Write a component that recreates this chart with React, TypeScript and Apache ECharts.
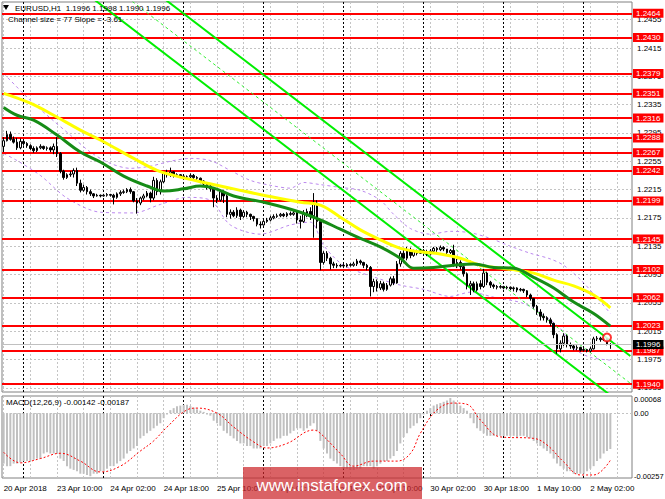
import React, { useEffect, useRef } from "react";
import * as echarts from "echarts";

const FONT = "'Liberation Sans', Arial, sans-serif";

// ---------- categories / time axis ----------
const BAR_COUNT = 189; // 183 hourly bars + empty right margin
const categories = Array.from({ length: BAR_COUNT }, (_, i) => String(i));
const timeTickLabels = [
  "20 Apr 2018", "23 Apr 10:00", "24 Apr 02:00", "24 Apr 18:00", "25 Apr 10:00", "26 Apr 02:00",
  "26 Apr 18:00", "27 Apr 10:00", "30 Apr 02:00", "30 Apr 18:00", "1 May 10:00", "2 May 02:00",
];
const hourGridBars = [0, 8, 16, 24, 32, 40, 48, 56, 64, 72, 80, 88, 96, 104, 112, 120, 128, 136, 144, 152, 160, 168, 176, 184];
const dayStartBars = [6, 30, 54, 78, 102, 126, 150, 174];

// ---------- price axis ----------
const priceTicks = [1.2455, 1.2415, 1.2375, 1.2335, 1.2295, 1.2255, 1.2215, 1.2175, 1.2135, 1.2095, 1.2055, 1.2015, 1.1975, 1.1935];
const priceMin = 1.1929;
const priceMax = 1.248;

// ---------- horizontal support / resistance levels ----------
const levels = [1.2464, 1.243, 1.2379, 1.2351, 1.2316, 1.2288, 1.2267, 1.2242, 1.2199, 1.2145, 1.2102, 1.2062, 1.2023, 1.1987, 1.194];
const bidPrice = 1.1996;

// ---------- candles: [open, close, low, high] ----------
const candles = [
  [1.2276, 1.2284, 1.2268, 1.2289], [1.2284, 1.2293, 1.2283, 1.2298], [1.2293, 1.2286, 1.2284, 1.2297], [1.2286, 1.2282, 1.228, 1.229],
  [1.2282, 1.2274, 1.2271, 1.2288], [1.2274, 1.2283, 1.2272, 1.2287], [1.2283, 1.228, 1.2277, 1.2285], [1.228, 1.2277, 1.2274, 1.2282],
  [1.2277, 1.2273, 1.2271, 1.2279], [1.2273, 1.227, 1.2267, 1.2276], [1.227, 1.2274, 1.2268, 1.2276], [1.2274, 1.2276, 1.2272, 1.2279],
  [1.2276, 1.2273, 1.2271, 1.2277], [1.2273, 1.2274, 1.227, 1.2276], [1.2274, 1.2271, 1.2268, 1.2276], [1.2271, 1.2276, 1.2265, 1.228],
  [1.2276, 1.2266, 1.2261, 1.2289], [1.2266, 1.2241, 1.2238, 1.2268], [1.2241, 1.2232, 1.2229, 1.2243], [1.2232, 1.2236, 1.223, 1.2238],
  [1.2236, 1.2237, 1.2233, 1.2241], [1.2237, 1.2242, 1.2232, 1.2245], [1.2242, 1.2224, 1.222, 1.2246], [1.2224, 1.2214, 1.2211, 1.2229],
  [1.2214, 1.2218, 1.2212, 1.2222], [1.2218, 1.2212, 1.2208, 1.222], [1.2212, 1.2209, 1.2206, 1.2215], [1.2209, 1.2206, 1.2203, 1.221],
  [1.2206, 1.2207, 1.2205, 1.2209], [1.2207, 1.2206, 1.2204, 1.2208], [1.2206, 1.2207, 1.2205, 1.2209], [1.2207, 1.2208, 1.2205, 1.221],
  [1.2208, 1.2207, 1.2205, 1.2209], [1.2207, 1.2204, 1.2194, 1.2209], [1.2204, 1.2209, 1.2202, 1.2211], [1.2209, 1.2211, 1.2206, 1.2214],
  [1.2211, 1.2212, 1.2209, 1.2215], [1.2212, 1.2215, 1.221, 1.2217], [1.2215, 1.2212, 1.2209, 1.2218], [1.2212, 1.2199, 1.2197, 1.2213],
  [1.2199, 1.2196, 1.2181, 1.2203], [1.2196, 1.2203, 1.2193, 1.2205], [1.2203, 1.2206, 1.22, 1.2209], [1.2206, 1.221, 1.2204, 1.2213],
  [1.221, 1.2203, 1.2197, 1.2212], [1.2203, 1.2228, 1.22, 1.2233], [1.2228, 1.2212, 1.2207, 1.2231], [1.2212, 1.2226, 1.2208, 1.2229],
  [1.2226, 1.2238, 1.2224, 1.224], [1.2238, 1.2236, 1.2232, 1.2243], [1.2236, 1.224, 1.2233, 1.2246], [1.224, 1.2235, 1.2232, 1.2241],
  [1.2235, 1.2236, 1.2233, 1.2238], [1.2236, 1.2234, 1.2232, 1.2237], [1.2234, 1.2233, 1.2231, 1.2236], [1.2233, 1.2233, 1.223, 1.2235],
  [1.2233, 1.2235, 1.2229, 1.2238], [1.2235, 1.2232, 1.223, 1.2237], [1.2232, 1.2231, 1.2227, 1.2234], [1.2231, 1.2227, 1.2224, 1.2232],
  [1.2227, 1.2223, 1.222, 1.2228], [1.2223, 1.222, 1.2215, 1.2224], [1.222, 1.2216, 1.2212, 1.2222], [1.2216, 1.2203, 1.219, 1.2218],
  [1.2203, 1.22, 1.2196, 1.2207], [1.22, 1.2212, 1.2198, 1.2215], [1.2212, 1.2206, 1.2196, 1.2214], [1.2206, 1.218, 1.2176, 1.2208],
  [1.218, 1.2183, 1.2174, 1.2187], [1.2183, 1.2178, 1.2176, 1.2186], [1.2178, 1.2186, 1.2175, 1.219], [1.2186, 1.2177, 1.2172, 1.2188],
  [1.2177, 1.2183, 1.2175, 1.2186], [1.2183, 1.218, 1.2176, 1.2185], [1.218, 1.2177, 1.2172, 1.2181], [1.2177, 1.2174, 1.217, 1.2178],
  [1.2174, 1.2166, 1.2163, 1.2174], [1.2166, 1.2165, 1.216, 1.217], [1.2165, 1.217, 1.2164, 1.2172], [1.217, 1.2172, 1.2168, 1.2175],
  [1.2172, 1.2175, 1.217, 1.2178], [1.2175, 1.2177, 1.2173, 1.218], [1.2177, 1.2178, 1.2175, 1.2181], [1.2178, 1.218, 1.2176, 1.2182],
  [1.218, 1.2178, 1.2176, 1.2182], [1.2178, 1.2181, 1.2176, 1.2183], [1.2181, 1.218, 1.2178, 1.2184], [1.218, 1.2182, 1.2178, 1.2185],
  [1.2182, 1.2172, 1.2167, 1.2185], [1.2172, 1.217, 1.216, 1.2178], [1.217, 1.218, 1.2168, 1.2186], [1.218, 1.2184, 1.2176, 1.2188],
  [1.2184, 1.2178, 1.2172, 1.219], [1.2178, 1.2196, 1.2147, 1.221], [1.2196, 1.217, 1.216, 1.22], [1.217, 1.2112, 1.2101, 1.2172],
  [1.2112, 1.2125, 1.2109, 1.2128], [1.2125, 1.2118, 1.2114, 1.2128], [1.2118, 1.211, 1.2102, 1.212], [1.211, 1.2108, 1.2104, 1.2113],
  [1.2108, 1.2107, 1.2104, 1.2111], [1.2107, 1.2108, 1.2105, 1.211], [1.2108, 1.2107, 1.2104, 1.211], [1.2107, 1.2109, 1.2105, 1.2111],
  [1.2109, 1.2108, 1.2106, 1.2111], [1.2108, 1.211, 1.2106, 1.2113], [1.211, 1.2114, 1.2107, 1.2117], [1.2114, 1.2112, 1.2109, 1.2116],
  [1.2112, 1.2108, 1.2104, 1.2113], [1.2108, 1.2105, 1.2101, 1.211], [1.2105, 1.2078, 1.2064, 1.2107], [1.2078, 1.2085, 1.207, 1.2089],
  [1.2085, 1.2076, 1.2071, 1.2088], [1.2076, 1.2082, 1.2073, 1.2086], [1.2082, 1.2074, 1.2071, 1.2085], [1.2074, 1.208, 1.2072, 1.2083],
  [1.208, 1.2089, 1.2078, 1.2092], [1.2089, 1.2083, 1.208, 1.2093], [1.2083, 1.211, 1.2082, 1.2114], [1.211, 1.2125, 1.2106, 1.2128],
  [1.2125, 1.2118, 1.2112, 1.213], [1.2118, 1.2129, 1.2115, 1.2134], [1.2129, 1.2122, 1.2118, 1.2133], [1.2122, 1.2128, 1.212, 1.213],
  [1.2128, 1.2125, 1.2122, 1.213], [1.2125, 1.2129, 1.2124, 1.2131], [1.2129, 1.2127, 1.2125, 1.2131], [1.2127, 1.2124, 1.2121, 1.213],
  [1.2124, 1.2128, 1.2122, 1.2131], [1.2128, 1.2132, 1.2126, 1.2134], [1.2132, 1.213, 1.2127, 1.2134], [1.213, 1.2133, 1.2128, 1.2136],
  [1.2133, 1.2131, 1.2128, 1.2135], [1.2131, 1.2126, 1.2124, 1.2131], [1.2126, 1.2129, 1.2124, 1.2131], [1.2129, 1.211, 1.2106, 1.2137],
  [1.211, 1.2112, 1.2104, 1.2117], [1.2112, 1.2106, 1.2102, 1.2115], [1.2106, 1.2096, 1.2092, 1.2108], [1.2096, 1.2079, 1.2074, 1.2098],
  [1.2079, 1.2082, 1.2066, 1.2086], [1.2082, 1.2073, 1.207, 1.2085], [1.2073, 1.2082, 1.2071, 1.2085], [1.2082, 1.2078, 1.2074, 1.2087],
  [1.2078, 1.2097, 1.2076, 1.2103], [1.2097, 1.2084, 1.208, 1.2099], [1.2084, 1.208, 1.2076, 1.2086], [1.208, 1.2078, 1.2075, 1.2082],
  [1.2078, 1.2077, 1.2074, 1.208], [1.2077, 1.2078, 1.2075, 1.208], [1.2078, 1.2076, 1.2074, 1.2079], [1.2076, 1.2077, 1.2074, 1.2079],
  [1.2077, 1.2075, 1.2073, 1.2078], [1.2075, 1.2076, 1.2071, 1.2078], [1.2076, 1.2073, 1.207, 1.2077], [1.2073, 1.2074, 1.2071, 1.2076],
  [1.2074, 1.2072, 1.2069, 1.2075], [1.2072, 1.2066, 1.2063, 1.2073], [1.2066, 1.2061, 1.2058, 1.2068], [1.2061, 1.205, 1.2047, 1.2062],
  [1.205, 1.2042, 1.2038, 1.2052], [1.2042, 1.2036, 1.203, 1.2046], [1.2036, 1.2034, 1.203, 1.204], [1.2034, 1.2031, 1.2027, 1.2036],
  [1.2031, 1.2026, 1.2022, 1.2034], [1.2026, 1.201, 1.2005, 1.2027], [1.201, 1.199, 1.1983, 1.2012], [1.199, 1.1998, 1.1985, 1.2002],
  [1.1998, 1.2008, 1.1994, 1.2012], [1.2008, 1.1996, 1.1992, 1.201], [1.1996, 1.1994, 1.199, 1.1999], [1.1994, 1.1991, 1.1988, 1.1996],
  [1.1991, 1.1992, 1.1988, 1.1995], [1.1992, 1.1988, 1.1986, 1.1993], [1.1988, 1.1989, 1.1986, 1.1991], [1.1989, 1.1987, 1.1985, 1.199],
  [1.1987, 1.199, 1.1985, 1.1993], [1.199, 1.2004, 1.1989, 1.2007], [1.2004, 1.2005, 1.2001, 1.2008], [1.2005, 1.2003, 1.2, 1.2007],
  [1.2003, 1.2004, 1.2001, 1.2006], [1.2004, 1.1997, 1.1995, 1.2005], [1.1996, 1.1996, 1.199, 1.1998],
];

// ---------- moving averages [bar, price] ----------
const yellowMA = [
  [0, 1.2351], [8, 1.2337], [15, 1.232], [23, 1.2299], [29, 1.2285], [39, 1.2259], [46, 1.2242], [51, 1.2235],
  [59, 1.2226], [69, 1.2216], [79, 1.2206], [89, 1.2197], [95, 1.2193], [101, 1.2176], [107, 1.2158], [113, 1.2144],
  [119, 1.2132], [125, 1.2127], [131, 1.2124], [137, 1.2118], [143, 1.2108], [149, 1.2104], [154, 1.2101], [159, 1.2097],
  [165, 1.2087], [171, 1.2079], [177, 1.2066], [182, 1.2048],
];
const greenMA = [
  [0, 1.2331], [4, 1.232], [9, 1.2313], [16, 1.2292], [23, 1.2268], [29, 1.2254], [36, 1.2234], [43, 1.222],
  [48, 1.2213], [54, 1.2216], [59, 1.222], [63, 1.2217], [69, 1.2206], [79, 1.2196], [89, 1.2183], [95, 1.2172],
  [101, 1.2159], [107, 1.2146], [113, 1.2134], [119, 1.2118], [123, 1.2104], [129, 1.2105], [135, 1.2108], [141, 1.211],
  [147, 1.2105], [153, 1.2104], [159, 1.2091], [165, 1.2076], [171, 1.2056], [177, 1.204], [182, 1.2022],
];

// ---------- envelope bands [bar, price] ----------
const bandUpper = [
  [0, 1.2379], [8, 1.2341], [14, 1.2316], [20, 1.2292], [26, 1.2268], [32, 1.2252], [38, 1.2245], [44, 1.2248],
  [50, 1.2255], [56, 1.2259], [62, 1.2256], [68, 1.2242], [74, 1.2228], [80, 1.2221], [86, 1.2217], [90, 1.2225],
  [95, 1.2222], [101, 1.2218], [107, 1.2214], [113, 1.22], [117, 1.218], [122, 1.216], [128, 1.2152], [134, 1.2156],
  [140, 1.2154], [146, 1.2146], [152, 1.2135], [158, 1.2125], [164, 1.2117], [168, 1.2108], [173, 1.2088], [178, 1.2062],
  [182, 1.204],
];
const bandLower = [
  [0, 1.2266], [4, 1.2256], [11, 1.2235], [19, 1.2203], [29, 1.2183], [39, 1.2182], [47, 1.2194], [55, 1.2204],
  [62, 1.22], [68, 1.2165], [77, 1.2152], [86, 1.2165], [92, 1.2169], [96, 1.2136], [102, 1.2108], [112, 1.209],
  [119, 1.208], [126, 1.2074], [134, 1.2064], [140, 1.207], [147, 1.2063], [156, 1.2054], [162, 1.2037], [167, 1.2019],
  [171, 1.1991], [176, 1.1978], [182, 1.1974],
];

// ---------- regression channel (end points at bar 0 and bar 188) ----------
const channelBars = [0, 188];
const channelUpper = [1.26585, 1.19798];
const channelMid = [1.262, 1.19413];
const channelLower = [1.25815, 1.19028];
const channelSize = 77;
const channelSlope = -3.61;

const alertPoints = [[181, 1.2006]];

// ---------- MACD ----------
const macdMain = [
  -0.002, -0.0021, -0.0021, -0.002, -0.002,
  -0.00195, -0.0019, -0.0019, -0.0019, -0.00185, -0.0018, -0.0018,
  -0.0016, -0.00155, -0.0016, -0.0016, -0.0016,
  -0.0018, -0.0019,
  -0.0021, -0.0022, -0.00225,
  -0.0023, -0.0024, -0.0024, -0.00245,
  -0.0025, -0.0024, -0.0024, -0.0023,
  -0.0023, -0.0022, -0.0021, -0.0021,
  -0.002, -0.0019, -0.0018,
  -0.0016, -0.0015, -0.0014, -0.0013,
  -0.001, -0.0009, -0.0008, -0.0007,
  -0.0006, -0.0005, -0.0004,
  -0.0002, -0.00005,
  0.00012, 0.0002, 0.00027, 0.0003, 0.00033,
  0.00033, 0.00028, 0.00022,
  0.00015, 0.0001, 0.00005,
  -0.00005, -0.0001,
  -0.0003, -0.0004, -0.0005, -0.0007, -0.0008, -0.0009,
  -0.001, -0.0011, -0.0012, -0.0012, -0.0013, -0.0013,
  -0.0014, -0.0014, -0.0014, -0.0013,
  -0.0013, -0.0012, -0.0011, -0.001, -0.001, -0.0009,
  -0.0009, -0.0008, -0.0007, -0.0006, -0.0006, -0.0007, -0.0006,
  -0.0005, -0.0004,
  -0.0007, -0.0011, -0.0014, -0.0016,
  -0.0018, -0.0019, -0.002, -0.0021,
  -0.0022, -0.0022, -0.00225, -0.00225, -0.0022, -0.0022, -0.0021, -0.0021, -0.0021, -0.0022, -0.0021,
  -0.002, -0.0019, -0.0019, -0.0018, -0.0017,
  -0.0015, -0.0012, -0.00095,
  -0.0008, -0.0006, -0.0005, -0.0004,
  -0.0002, -0.00005,
  0.0001, 0.0002, 0.0003, 0.00035, 0.0004, 0.00045, 0.0005, 0.0006, 0.0005,
  0.0004, 0.0003, 0.0002, 0.0001,
  -0.0002, -0.0004,
  -0.0006, -0.0007, -0.0008, -0.0009,
  -0.0009, -0.0009, -0.0009, -0.0009, -0.0009, -0.0009,
  -0.0009, -0.0009, -0.00095, -0.0009, -0.0009, -0.00095, -0.001, -0.0011,
  -0.0012, -0.0013, -0.0014, -0.0015, -0.0016, -0.0018,
  -0.002, -0.0021, -0.0022, -0.0023, -0.0023, -0.0024,
  -0.0024, -0.0024, -0.0024, -0.0023,
  -0.0022, -0.0021, -0.0019, -0.0018,
  -0.0016, -0.0015, -0.00142,
];
const macdSignal = [
  [0, -0.00155], [5, -0.00197], [11, -0.0018], [17, -0.00159], [23, -0.0019], [29, -0.00233], [35, -0.0021],
  [41, -0.0015], [45, -0.0011], [49, -0.00055], [55, 0.00013], [58, 0.0002], [64, 0.0], [69, -0.00055],
  [75, -0.00114], [79, -0.00138], [85, -0.0012], [93, -0.00067], [95, -0.0008], [101, -0.0016], [105, -0.0021],
  [111, -0.0019], [118, -0.0019], [122, -0.0016], [125, -0.0008], [130, 0.00013], [135, 0.0004], [139, 0.00035],
  [143, -0.00027], [149, -0.00094], [159, -0.001], [163, -0.00126], [168, -0.00193], [173, -0.00245],
  [177, -0.00245], [182, -0.00187],
];
const macdMax = 0.00068;
const macdMin = -0.00257;

function buildOption() {
  const closes = candles.map((c) => c[1]);
  const last = candles[candles.length - 1];
  const lastSignal = macdSignal[macdSignal.length - 1][1];
  const lastMain = macdMain[macdMain.length - 1];
  const grayDash = { color: "#c4c4c4", width: 1, type: [2, 2] };
  const dayDash = { color: "#000000", width: 1, type: [2, 2] };
  const noLine = { color: "rgba(0,0,0,0)", width: 1, type: "solid" };
  const vLines = [
    ...hourGridBars.map((b) => ({ xAxis: b, lineStyle: grayDash, label: { show: false } })),
    ...dayStartBars.map((b) => ({ xAxis: b, lineStyle: dayDash, label: { show: false } })),
  ];
  const lbl = { fontSize: 8, fontFamily: FONT };
  const line = (data: number[][], color: string, width: number, z: number, type: any = "solid", smooth: any = false) => ({
    type: "line",
    xAxisIndex: 0,
    yAxisIndex: 0,
    data,
    symbol: "none",
    smooth,
    silent: true,
    z,
    lineStyle: { color, width, type },
  });
  const chanData = (vals: number[]) => channelBars.map((b, k) => [b, vals[k]]);

  return {
    animation: false,
    backgroundColor: "#ffffff",
    textStyle: { fontFamily: FONT },
    grid: [
      { left: 2, top: 2, width: 630, height: 390, show: true, borderColor: "#808080", borderWidth: 1 },
      { left: 2, top: 396, width: 630, height: 82, show: true, borderColor: "#808080", borderWidth: 1 },
    ],
    xAxis: [
      {
        type: "category", gridIndex: 0, data: categories, boundaryGap: true,
        axisLine: { show: false }, axisTick: { show: false }, axisLabel: { show: false }, splitLine: { show: false },
      },
      {
        type: "category", gridIndex: 1, data: categories, boundaryGap: true,
        axisLine: { show: false },
        axisTick: { show: true, interval: 15, alignWithLabel: true, length: 4, lineStyle: { color: "#000" } },
        axisLabel: {
          show: true, interval: 15, align: "left", margin: 6, color: "#000", ...lbl,
          formatter: (_v: string, idx: number) => timeTickLabels[idx / 16] ?? "",
        },
        splitLine: { show: false },
      },
    ],
    yAxis: [
      { type: "value", gridIndex: 0, min: priceMin, max: priceMax, position: "right", show: false, splitLine: { show: false } },
      { type: "value", gridIndex: 1, min: macdMin, max: macdMax, position: "right", show: false, splitLine: { show: false } },
    ],
    graphic: [
      { type: "polygon", shape: { points: [[3, 5], [9, 5], [6, 10]] }, style: { fill: "#000" }, z: 50 },
      {
        type: "text", x: 15, y: 8, z: 50,
        style: {
          text: `EURUSD,H1  ${last[0].toFixed(4)} ${last[3].toFixed(4)} ${last[2].toFixed(4)} ${last[1].toFixed(4)}`,
          fill: "#000", fontSize: 8, fontFamily: FONT, verticalAlign: "middle",
        },
      },
      {
        type: "text", x: 8, y: 19, z: 50,
        style: { text: `Channel size = ${channelSize} Slope = ${channelSlope}`, fill: "#000", fontSize: 8, fontFamily: FONT, verticalAlign: "middle" },
      },
      {
        type: "text", x: 6, y: 402, z: 50,
        style: { text: `MACD(12,26,9) ${lastMain.toFixed(5)} ${lastSignal.toFixed(5)}`, fill: "#000", fontSize: 8, fontFamily: FONT, verticalAlign: "middle" },
      },
      { type: "rect", shape: { x: 243, y: 467, width: 179, height: 34 }, style: { fill: "rgba(204,38,42,0.72)" }, z: 100 },
      {
        type: "text", x: 332, y: 485, z: 101,
        style: { text: "www.instaforex.com", fill: "#ffffff", fontSize: 17, fontFamily: FONT, align: "center", verticalAlign: "middle" },
      },
    ],
    series: [
      // background grid + price tick labels
      {
        type: "line", xAxisIndex: 0, yAxisIndex: 0, data: closes, symbol: "none", silent: true, z: 1,
        lineStyle: { opacity: 0 },
        markLine: {
          silent: true, symbol: ["none", "none"], z: 1, animation: false, precision: 6,
          data: [
            ...priceTicks.map((v) => ({
              yAxis: v, lineStyle: grayDash,
              label: { show: true, position: "end", distance: 5, formatter: v.toFixed(4), color: "#000", ...lbl },
            })),
            ...vLines,
          ],
        },
      },
      // envelope bands
      line(bandUpper, "#bb88ee", 1, 2, [3, 3], 0.3),
      line(bandLower, "#bb88ee", 1, 2, [3, 3], 0.3),
      // horizontal levels
      {
        type: "line", xAxisIndex: 0, yAxisIndex: 0, data: closes, symbol: "none", silent: true, z: 3,
        lineStyle: { opacity: 0 },
        markLine: {
          silent: true, symbol: ["none", "none"], z: 3, animation: false, precision: 6,
          lineStyle: { color: "#ff0000", width: 2, type: "solid" },
          label: {
            show: true, position: "end", distance: 1, color: "#fff", backgroundColor: "#ff0000",
            padding: [1, 3, 0, 3], ...lbl,
            formatter: (p: any) => Number(p.value).toFixed(4),
          },
          data: levels.map((v) => ({ yAxis: v })),
        },
      },
      // regression channel
      line(chanData(channelUpper), "#00ee00", 2, 4),
      line(chanData(channelMid), "#33ee33", 1, 4, [3, 3]),
      line(chanData(channelLower), "#00ee00", 2, 4),
      // candles
      {
        type: "candlestick", xAxisIndex: 0, yAxisIndex: 0, data: candles, z: 5, silent: true,
        barWidth: "70%",
        itemStyle: { color: "#ffffff", color0: "#000000", borderColor: "#000000", borderColor0: "#000000", borderWidth: 1 },
      },
      // moving averages
      line(yellowMA, "#ffff00", 3, 6, "solid", 0.4),
      line(greenMA, "#168c16", 3, 6, "solid", 0.4),
      // bid line
      {
        type: "line", xAxisIndex: 0, yAxisIndex: 0, data: closes, symbol: "none", silent: true, z: 7,
        lineStyle: { opacity: 0 },
        markLine: {
          silent: true, symbol: ["none", "none"], z: 7, animation: false, precision: 6,
          lineStyle: { color: "#c0c0c0", width: 1, type: "solid" },
          label: {
            show: true, position: "end", distance: 1, color: "#fff", backgroundColor: "#000000",
            padding: [1, 3, 0, 3], ...lbl, formatter: (p: any) => Number(p.value).toFixed(4),
          },
          data: [{ yAxis: bidPrice }],
        },
      },
      {
        type: "scatter", xAxisIndex: 0, yAxisIndex: 0, data: alertPoints, symbol: "emptyCircle", symbolSize: 8,
        itemStyle: { color: "#ff0000", borderColor: "#ff0000", borderWidth: 1 }, z: 8, silent: true,
      },
      // MACD histogram
      {
        type: "bar", xAxisIndex: 1, yAxisIndex: 1, data: macdMain, barWidth: 2, z: 2, silent: true,
        itemStyle: { color: "#c0c0c0" },
        markLine: {
          silent: true, symbol: ["none", "none"], z: 1, animation: false, precision: 8,
          data: [
            { yAxis: macdMax, lineStyle: noLine, label: { show: true, position: "end", distance: 2, offset: [0, 3], formatter: "0.00068", color: "#000", fontSize: 7.5, fontFamily: FONT } },
            { yAxis: 0, lineStyle: grayDash, label: { show: true, position: "end", distance: 2, formatter: "0.00", color: "#000", fontSize: 7.5, fontFamily: FONT } },
            { yAxis: macdMin, lineStyle: noLine, label: { show: true, position: "end", distance: 2, offset: [0, -2], formatter: "-0.00257", color: "#000", fontSize: 7.5, fontFamily: FONT } },
            ...vLines,
          ],
        },
      },
      {
        type: "line", xAxisIndex: 1, yAxisIndex: 1, data: macdSignal, symbol: "none", smooth: 0.4, silent: true, z: 3,
        lineStyle: { color: "#ff0000", width: 1, type: [2, 2] },
      },
    ],
  };
}

export default function App() {
  const ref = useRef<HTMLDivElement>(null);
  useEffect(() => {
    if (!ref.current) return;
    const chart = echarts.init(ref.current, null, { renderer: "svg" });
    chart.setOption(buildOption() as any);
    return () => chart.dispose();
  }, []);
  return (
    <div
      ref={ref}
      style={{ position: "fixed", left: 0, top: 0, width: 665, height: 499, background: "#ffffff" }}
    />
  );
}
